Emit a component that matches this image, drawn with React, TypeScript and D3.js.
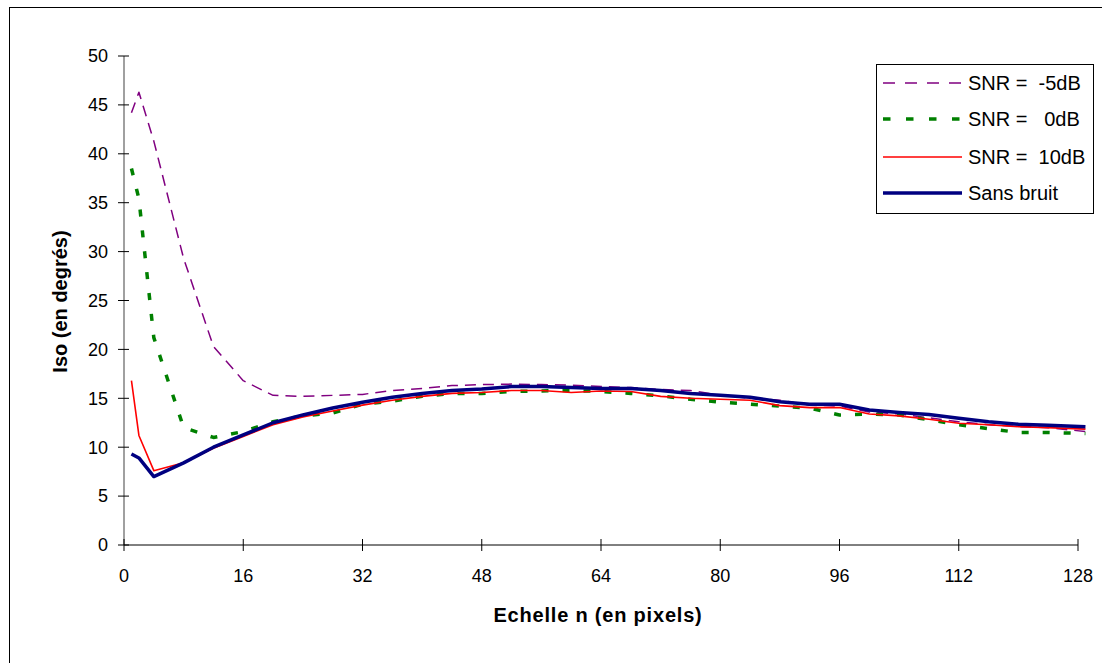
import React from "react";
import * as d3 from "d3";

const xValues = [1, 2, 4, 8, 12, 16, 20, 24, 28, 32, 36, 40, 44, 48, 52, 56, 60, 64, 68, 72, 76, 80, 84, 88, 92, 96, 100, 104, 108, 112, 116, 120, 124, 129];
const snrM5 = [44.2, 46.3, 41.3, 29.3, 20.3, 16.8, 15.3, 15.2, 15.3, 15.4, 15.8, 16.0, 16.3, 16.4, 16.45, 16.4, 16.35, 16.2, 16.1, 15.9, 15.8, 15.3, 15.0, 14.8, 14.3, 14.2, 13.6, 13.4, 13.0, 12.6, 12.3, 12.1, 12.0, 11.6];
const snr0 = [38.5, 35.4, 21.2, 12.0, 11.0, 11.6, 12.6, 13.2, 13.5, 14.4, 14.7, 15.2, 15.5, 15.5, 15.7, 15.75, 15.8, 15.7, 15.5, 15.25, 14.9, 14.6, 14.4, 14.2, 14.0, 13.3, 13.4, 13.3, 12.8, 12.3, 11.9, 11.5, 11.5, 11.4];
const snr10 = [16.8, 11.2, 7.6, 8.4, 9.9, 11.1, 12.3, 13.1, 13.7, 14.3, 14.8, 15.2, 15.5, 15.6, 15.8, 15.8, 15.6, 15.75, 15.7, 15.2, 15.0, 14.9, 14.8, 14.25, 14.05, 14.05, 13.4, 13.2, 12.85, 12.45, 12.3, 12.1, 12.0, 11.85];
const sansBruit = [9.3, 8.9, 7.0, 8.4, 10.0, 11.25, 12.5, 13.3, 14.0, 14.6, 15.1, 15.5, 15.8, 15.95, 16.2, 16.2, 16.1, 16.0, 16.0, 15.8, 15.5, 15.3, 15.1, 14.65, 14.4, 14.4, 13.8, 13.55, 13.35, 12.95, 12.6, 12.35, 12.25, 12.1];

const xTicks = [0, 16, 32, 48, 64, 80, 96, 112, 128];
const yTicks = [0, 5, 10, 15, 20, 25, 30, 35, 40, 45, 50];

const seriesNames = ["SNR =  -5dB", "SNR =   0dB", "SNR =  10dB", "Sans bruit"];

const FONT = "'Liberation Sans', Arial, sans-serif";

export default function App() {
  const x = d3.scaleLinear().domain([0, 128]).range([124, 1078]);
  const y = d3.scaleLinear().domain([0, 50]).range([545, 56]);

  const series = [
    { name: seriesNames[0], values: snrM5, color: "#800080", width: 1.5, dash: "11,7", legendDash: "12,10" },
    { name: seriesNames[1], values: snr0, color: "#008000", width: 3.5, dash: "7,14", legendDash: "7.5,15.5" },
    { name: seriesNames[2], values: snr10, color: "#FF0000", width: 1.6, dash: undefined, legendDash: undefined },
    { name: seriesNames[3], values: sansBruit, color: "#000080", width: 3.5, dash: undefined, legendDash: undefined },
  ];

  const line = (vals: number[]) =>
    d3
      .line<number>()
      .x((_, i) => x(xValues[i]))
      .y((d) => y(d))(vals) || "";

  const legendX = 876;
  const legendY = 64;
  const rowYs = [83, 119, 157, 193];

  return (
    <svg width={1102} height={663} style={{ display: "block", position: "absolute", left: 0, top: 0 }}>
      <rect x={0} y={0} width={1102} height={663} fill="#fff" />
      <rect x={9.5} y={7.5} width={1100} height={670} fill="none" stroke="#000" strokeWidth={1} />

      {/* y axis */}
      <line x1={x(0)} x2={x(0)} y1={y(0)} y2={y(50)} stroke="#808080" strokeWidth={1.5} />
      {yTicks.map((t) => (
        <g key={"y" + t}>
          <line x1={x(0) - 6} x2={x(0) + 5} y1={y(t)} y2={y(t)} stroke="#000" strokeWidth={1} />
          <text x={108} y={y(t)} dy="0.35em" textAnchor="end" fontFamily={FONT} fontSize={18}>
            {t}
          </text>
        </g>
      ))}

      {/* x axis */}
      <line x1={x(0)} x2={x(128)} y1={y(0)} y2={y(0)} stroke="#000" strokeWidth={1} />
      {xTicks.map((t) => (
        <g key={"x" + t}>
          <line x1={x(t)} x2={x(t)} y1={y(0) - 6} y2={y(0) + 6} stroke="#000" strokeWidth={1} />
          <text x={x(t)} y={576} dy="0.35em" textAnchor="middle" fontFamily={FONT} fontSize={18}>
            {t}
          </text>
        </g>
      ))}

      {/* series */}
      {series.map((s) => (
        <path
          key={s.name}
          d={line(s.values)}
          fill="none"
          stroke={s.color}
          strokeWidth={s.width}
          strokeDasharray={s.dash}
          strokeLinejoin="round"
        />
      ))}

      {/* titles */}
      <text x={598} y={615} textAnchor="middle" dy="0.35em" fontFamily={FONT} fontWeight="bold" fontSize={20} letterSpacing={0.8}>
        Echelle n (en pixels)
      </text>
      <text
        transform={`translate(60,${y(25) + 1}) rotate(-90)`}
        textAnchor="middle"
        dy="0.35em"
        fontFamily={FONT}
        fontWeight="bold"
        fontSize={20}
      >
        Iso (en degrés)
      </text>

      {/* legend */}
      <rect x={legendX + 0.5} y={legendY + 0.5} width={217} height={149} fill="#fff" stroke="#000" strokeWidth={1} />
      {series.map((s, i) => (
        <g key={"lg" + s.name}>
          <line
            x1={883}
            x2={962}
            y1={rowYs[i]}
            y2={rowYs[i]}
            stroke={s.color}
            strokeWidth={s.width}
            strokeDasharray={s.legendDash}
          />
          <text x={968} y={rowYs[i]} dy="0.35em" fontFamily={FONT} fontSize={20} style={{ whiteSpace: "pre" }}>
            {s.name}
          </text>
        </g>
      ))}
    </svg>
  );
}
